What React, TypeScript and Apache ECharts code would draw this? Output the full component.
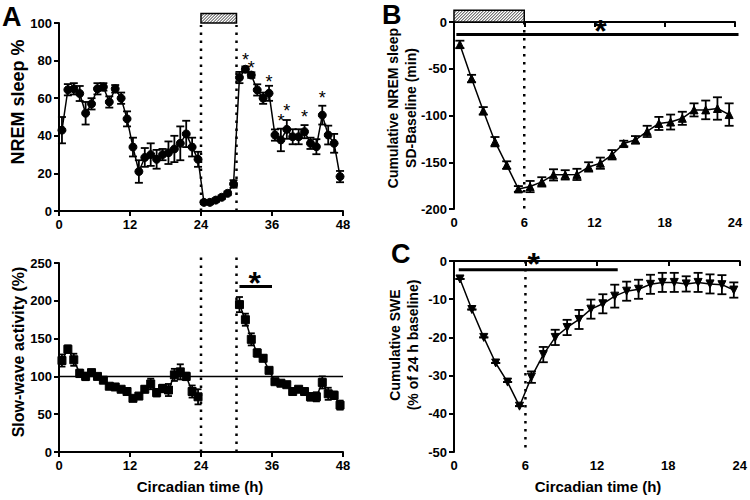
import React, { useEffect, useRef } from "react";
import * as echarts from "echarts";

// ---------- data ----------
const hoursA = [0.5, 1.5, 2.5, 3.5, 4.5, 5.5, 6.5, 7.5, 8.5, 9.5, 10.5, 11.5, 12.5, 13.5, 14.5, 15.5, 16.5, 17.5, 18.5, 19.5, 20.5, 21.5, 22.5, 23.5,
  24.5, 25.5, 26.5, 27.5, 28.5, 29.5, 30.5, 31.5, 32.5, 33.5, 34.5, 35.5, 36.5, 37.5, 38.5, 39.5, 40.5, 41.5, 42.5, 43.5, 44.5, 45.5, 46.5, 47.5];
const nremPct = [43, 64.5, 65, 62.5, 52, 57, 65, 66, 58, 65, 60, 49, 34, 21, 28.5, 30, 27.5, 30, 31, 33, 36, 41, 34, 27.5,
  4.6, 4.6, 5.8, 7.3, 9.4, 14.4, 71, 75.4, 72.3, 64.4, 60, 62.6, 40.4, 37.8, 43.4, 39.5, 39.5, 42.2, 36, 34.2, 51, 40.4, 36, 18.3];
const nremErr = [7, 3, 3, 4, 6, 3, 3, 2, 3, 2, 3, 4, 5, 6, 5, 6, 5, 3, 6, 7, 9, 7, 5, 4,
  1, 1, 1, 1, 1, 2, 3, 1.5, 1.5, 3, 3, 4, 3, 6, 5, 4, 4, 3.5, 3, 4, 5, 5, 5, 3];

const nremStarHours = [31.5, 32.5, 35.5, 37.5, 38.5, 41.5, 44.5];
const nremStarY = [82, 78, 70.7, 50, 55, 52, 62];

const hoursSwaPre = [0.5, 1.5, 2.5, 3.5, 4.5, 5.5, 6.5, 7.5, 8.5, 9.5, 10.5, 11.5, 12.5, 13.5, 14.5, 15.5, 16.5, 17.5, 18.5, 19.5, 20.5, 21.5, 22.5, 23.5];
const swaPre = [121, 136, 122, 104, 100, 105, 100, 95, 87, 86, 83, 80, 71, 74, 83, 90, 78.5, 84, 82, 102, 106, 100, 80, 73];
const swaPreErr = [8, 5, 8, 5, 5, 3, 3, 3, 3, 2, 2, 3, 3, 3, 4, 7, 5, 5, 8, 8, 10, 5, 8, 10];
const hoursSwaPost = [30.5, 31.5, 32.5, 33.5, 34.5, 35.5, 36.5, 37.5, 38.5, 39.5, 40.5, 41.5, 42.5, 43.5, 44.5, 45.5, 46.5, 47.5];
const swaPost = [195, 175, 149, 131, 124, 108, 93, 91, 89, 80, 83, 80, 73, 73, 92, 77, 75, 62];
const swaPostErr = [10, 8, 8, 5, 4, 3, 3, 3, 3, 3, 3, 3, 5, 6, 8, 8, 5, 6];

const hoursBC = [0.5, 1.5, 2.5, 3.5, 4.5, 5.5, 6.5, 7.5, 8.5, 9.5, 10.5, 11.5, 12.5, 13.5, 14.5, 15.5, 16.5, 17.5, 18.5, 19.5, 20.5, 21.5, 22.5, 23.5];
const cumNrem = [-24, -60.5, -95, -128, -153, -178.5, -176, -171, -163.5, -163.5, -163, -155, -151, -142, -130, -126, -117, -108.5, -107, -103, -94, -94, -92.5, -99];
const cumNremErr = [4, 4, 4, 5, 4, 3, 6, 5, 6, 5, 6, 5, 6, 5, 3, 4, 6, 7, 8, 7, 7, 10, 12, 12];
const cumSwe = [-4.7, -12.7, -20, -26.7, -31.7, -38, -30.4, -24.5, -20, -17.4, -15.3, -12.6, -11.2, -9.2, -7.9, -7.4, -6.1, -5.6, -5.6, -6, -5.6, -6, -6.2, -7.6];
const cumSweErr = [0, 0, 0, 0, 0, 0, 1.5, 2, 2, 2, 2.5, 2.5, 2.5, 3, 2.5, 2.5, 2.5, 2.5, 2.5, 2, 2.5, 2.5, 2.5, 2];

// sleep deprivation windows [start, end, bottom, top]
const sdBoxA = [24, 30, 100, 105];
const sdBoxB = [0, 6, 0, 12.5];

// reference segments [x0, y0, x1, y1, style]  style: 0 = dotted vertical, 1 = fine dotted, 2 = thick solid, 3 = thin solid
const segsA1 = [[24, 0, 24, 99, 0], [30, 0, 30, 99, 0]];
const segsA2 = [[0, 100, 48, 100, 3], [24, 0, 24, 262, 0], [30, 0, 30, 262, 0], [30.5, 219, 36, 219, 2]];
const segsB = [[6, 0, 24, 0, 1], [6, 0, 6, -200, 0], [0.2, -13.5, 24.3, -13.5, 2]];
const segsC = [[0, 0, 24, 0, 1], [6, 0, 6, -50, 0], [0.4, -2.3, 13.75, -2.3, 2]];

// significance stars [x, y]
const sigStarA2 = [33.1, 232];
const sigStarB = [12.5, -3];
const sigStarC = [6.7, 0.8];

const xTicksA = [0, 48, 12];
const xTicksBC = [0, 24, 6];

const FONT = "'Liberation Sans', Arial, Helvetica, sans-serif";

function pairs(xs: number[], ys: number[]) {
  return xs.map((x, i) => [x, ys[i]]);
}
function errData(xs: number[], ys: number[], es: number[]) {
  return xs.map((x, i) => [x, ys[i] - es[i], ys[i] + es[i]]);
}

function errRender(capW: number) {
  return (params: any, api: any) => {
    const x = api.value(0);
    const lo = api.coord([x, api.value(1)]);
    const hi = api.coord([x, api.value(2)]);
    const st = { stroke: "#000", lineWidth: 1.8 };
    return {
      type: "group",
      children: [
        { type: "line", shape: { x1: lo[0], y1: lo[1], x2: hi[0], y2: hi[1] }, style: st },
        { type: "line", shape: { x1: lo[0] - capW / 2, y1: lo[1], x2: lo[0] + capW / 2, y2: lo[1] }, style: st },
        { type: "line", shape: { x1: hi[0] - capW / 2, y1: hi[1], x2: hi[0] + capW / 2, y2: hi[1] }, style: st },
      ],
    };
  };
}

const segStyles: any[] = [
  { stroke: "#000", lineWidth: 2.5, lineDash: [2.5, 5.5] },
  { stroke: "#000", lineWidth: 1.5, lineDash: [1.5, 4.5] },
  { stroke: "#000", lineWidth: 3 },
  { stroke: "#000", lineWidth: 1.5 },
];
function segRender(params: any, api: any) {
  const a = api.coord([api.value(0), api.value(1)]);
  const b = api.coord([api.value(2), api.value(3)]);
  return { type: "line", shape: { x1: a[0], y1: a[1], x2: b[0], y2: b[1] }, style: segStyles[api.value(4)] };
}

function hatchRender(params: any, api: any) {
  const a = api.coord([api.value(0), api.value(3)]);
  const b = api.coord([api.value(1), api.value(2)]);
  const x0 = a[0], y0 = a[1], x1 = b[0], y1 = b[1];
  const h = y1 - y0;
  const children: any[] = [
    { type: "rect", shape: { x: x0, y: y0, width: x1 - x0, height: h }, style: { fill: "#fff", stroke: null } },
  ];
  for (let s = x0 - h; s < x1; s += 3) {
    let sx = s, sy = y1, ex = s + h, ey = y0;
    if (sx < x0) { sy = y1 - (x0 - sx); sx = x0; }
    if (ex > x1) { ey = y0 + (ex - x1); ex = x1; }
    if (ex > sx) children.push({ type: "line", shape: { x1: sx, y1: sy, x2: ex, y2: ey }, style: { stroke: "#000", lineWidth: 0.8 } });
  }
  children.push({ type: "rect", shape: { x: x0, y: y0, width: x1 - x0, height: h }, style: { fill: "none", stroke: "#000", lineWidth: 1.5 } });
  return { type: "group", children };
}

function textRender(labels: string[], fontSize: number, fontWeight: string) {
  return (params: any, api: any) => {
    const p = api.coord([api.value(0), api.value(1)]);
    return {
      type: "text",
      x: p[0],
      y: p[1] + fontSize * 0.2,
      style: {
        text: labels[params.dataIndex],
        fontSize,
        fontWeight,
        fontFamily: FONT,
        fill: "#000",
        align: "center",
        verticalAlign: "middle",
      },
    };
  };
}

const axisCommon = {
  axisLine: { show: true, lineStyle: { color: "#000", width: 2 } },
  axisTick: { show: true, inside: false, length: 5, lineStyle: { color: "#000", width: 2 } },
  axisLabel: { color: "#000", fontSize: 13, fontWeight: "bold", fontFamily: FONT, margin: 7 },
  splitLine: { show: false },
};

function segSeries(idx: number, data: number[][]) {
  return {
    type: "custom", xAxisIndex: idx, yAxisIndex: idx, renderItem: segRender, clip: false, z: 1, silent: true,
    encode: { x: [0, 2], y: [1, 3] }, data,
  };
}

function vText(x: number, y: number, text: string, fontSize: number) {
  return {
    type: "text", x, y, rotation: Math.PI / 2,
    style: { text, fontSize, fontWeight: "bold", fontFamily: FONT, fill: "#000", align: "center", verticalAlign: "middle" },
  };
}

export default function App() {
  const ref = useRef<HTMLDivElement>(null);
  useEffect(() => {
    if (!ref.current) return;
    const chart = echarts.init(ref.current, null, { renderer: "svg" });
    const lineStyle = { color: "#000", width: 1.5 };
    const itemStyle = { color: "#000", borderColor: "#000" };

    const option: any = {
      animation: false,
      backgroundColor: "#fff",
      textStyle: { fontFamily: FONT },
      grid: [
        { left: 59, top: 23, width: 284, height: 188 },
        { left: 59, top: 263, width: 284, height: 189 },
        { left: 454, top: 22, width: 281, height: 187 },
        { left: 454, top: 261, width: 287, height: 191 },
      ],
      xAxis: [
        { type: "value", gridIndex: 0, min: xTicksA[0], max: xTicksA[1], interval: xTicksA[2], ...axisCommon },
        { type: "value", gridIndex: 1, min: xTicksA[0], max: xTicksA[1], interval: xTicksA[2], ...axisCommon },
        { type: "value", gridIndex: 2, min: xTicksBC[0], max: xTicksBC[1], interval: xTicksBC[2], ...axisCommon },
        { type: "value", gridIndex: 3, min: xTicksBC[0], max: xTicksBC[1], interval: xTicksBC[2], ...axisCommon },
      ],
      yAxis: [
        { type: "value", gridIndex: 0, min: 0, max: 100, interval: 20, ...axisCommon },
        { type: "value", gridIndex: 1, min: 0, max: 250, interval: 50, ...axisCommon },
        { type: "value", gridIndex: 2, min: -200, max: 0, interval: 50, ...axisCommon },
        { type: "value", gridIndex: 3, min: -50, max: 0, interval: 10, ...axisCommon },
      ],
      graphic: [
        { type: "text", left: 2, top: 3, style: { text: "A", fontSize: 27, fontWeight: "bold", fontFamily: FONT, fill: "#000" } },
        { type: "text", left: 382, top: 1, style: { text: "B", fontSize: 27, fontWeight: "bold", fontFamily: FONT, fill: "#000" } },
        { type: "text", left: 391, top: 240, style: { text: "C", fontSize: 27, fontWeight: "bold", fontFamily: FONT, fill: "#000" } },
        vText(18, 102, "NREM sleep %", 18),
        vText(18, 352, "Slow-wave activity (%)", 16),
        vText(393, 108, "Cumulative NREM sleep", 14),
        vText(411, 108, "SD-Baseline (min)", 14),
        vText(395, 345, "Cumulative SWE", 14),
        vText(413, 345, "(% of 24 h baseline)", 14),
        { type: "text", x: 200, y: 486, style: { text: "Circadian time (h)", fontSize: 15, fontWeight: "bold", fontFamily: FONT, fill: "#000", align: "center", verticalAlign: "middle" } },
        { type: "text", x: 598, y: 486, style: { text: "Circadian time (h)", fontSize: 15, fontWeight: "bold", fontFamily: FONT, fill: "#000", align: "center", verticalAlign: "middle" } },
      ],
      series: [
        // ---- A top ----
        segSeries(0, segsA1),
        {
          type: "custom", xAxisIndex: 0, yAxisIndex: 0, renderItem: errRender(8), clip: false, z: 2,
          encode: { x: 0, y: [1, 2] }, data: errData(hoursA, nremPct, nremErr),
        },
        {
          type: "line", xAxisIndex: 0, yAxisIndex: 0, data: pairs(hoursA, nremPct), symbol: "circle", symbolSize: 8,
          lineStyle, itemStyle, z: 3,
        },
        {
          type: "custom", xAxisIndex: 0, yAxisIndex: 0, renderItem: hatchRender, clip: false, z: 4,
          encode: { x: [0, 1], y: [2, 3] }, data: [sdBoxA],
        },
        {
          type: "custom", xAxisIndex: 0, yAxisIndex: 0, renderItem: textRender(nremStarHours.map(() => "*"), 18, "normal"), clip: false, z: 5,
          encode: { x: 0, y: 1 }, data: pairs(nremStarHours, nremStarY),
        },
        // ---- A bottom ----
        segSeries(1, segsA2),
        {
          type: "custom", xAxisIndex: 1, yAxisIndex: 1, renderItem: errRender(7), clip: false, z: 2,
          encode: { x: 0, y: [1, 2] }, data: errData(hoursSwaPre, swaPre, swaPreErr).concat(errData(hoursSwaPost, swaPost, swaPostErr)),
        },
        {
          type: "line", xAxisIndex: 1, yAxisIndex: 1, data: pairs(hoursSwaPre, swaPre), symbol: "rect", symbolSize: 8,
          lineStyle, itemStyle, z: 3,
        },
        {
          type: "line", xAxisIndex: 1, yAxisIndex: 1, data: pairs(hoursSwaPost, swaPost), symbol: "rect", symbolSize: 8,
          lineStyle, itemStyle, z: 3,
        },
        {
          type: "custom", xAxisIndex: 1, yAxisIndex: 1, renderItem: textRender(["*"], 32, "bold"), clip: false, z: 5,
          encode: { x: 0, y: 1 }, data: [sigStarA2],
        },
        // ---- B ----
        segSeries(2, segsB),
        {
          type: "custom", xAxisIndex: 2, yAxisIndex: 2, renderItem: errRender(9), clip: false, z: 2,
          encode: { x: 0, y: [1, 2] }, data: errData(hoursBC, cumNrem, cumNremErr),
        },
        {
          type: "line", xAxisIndex: 2, yAxisIndex: 2, data: pairs(hoursBC, cumNrem), symbol: "triangle", symbolSize: 8,
          lineStyle, itemStyle, z: 3,
        },
        {
          type: "custom", xAxisIndex: 2, yAxisIndex: 2, renderItem: hatchRender, clip: false, z: 4,
          encode: { x: [0, 1], y: [2, 3] }, data: [sdBoxB],
        },
        {
          type: "custom", xAxisIndex: 2, yAxisIndex: 2, renderItem: textRender(["*"], 32, "bold"), clip: false, z: 5,
          encode: { x: 0, y: 1 }, data: [sigStarB],
        },
        // ---- C ----
        segSeries(3, segsC),
        {
          type: "custom", xAxisIndex: 3, yAxisIndex: 3, renderItem: errRender(9), clip: false, z: 2,
          encode: { x: 0, y: [1, 2] }, data: errData(hoursBC, cumSwe, cumSweErr),
        },
        {
          type: "line", xAxisIndex: 3, yAxisIndex: 3, data: pairs(hoursBC, cumSwe), symbol: "triangle", symbolRotate: 180, symbolSize: 8,
          lineStyle, itemStyle, z: 3,
        },
        {
          type: "custom", xAxisIndex: 3, yAxisIndex: 3, renderItem: textRender(["*"], 32, "bold"), clip: false, z: 5,
          encode: { x: 0, y: 1 }, data: [sigStarC],
        },
      ],
    };
    chart.setOption(option);
    return () => chart.dispose();
  }, []);
  return <div ref={ref} style={{ position: "absolute", left: 0, top: 0, width: 750, height: 500, background: "#fff" }} />;
}
